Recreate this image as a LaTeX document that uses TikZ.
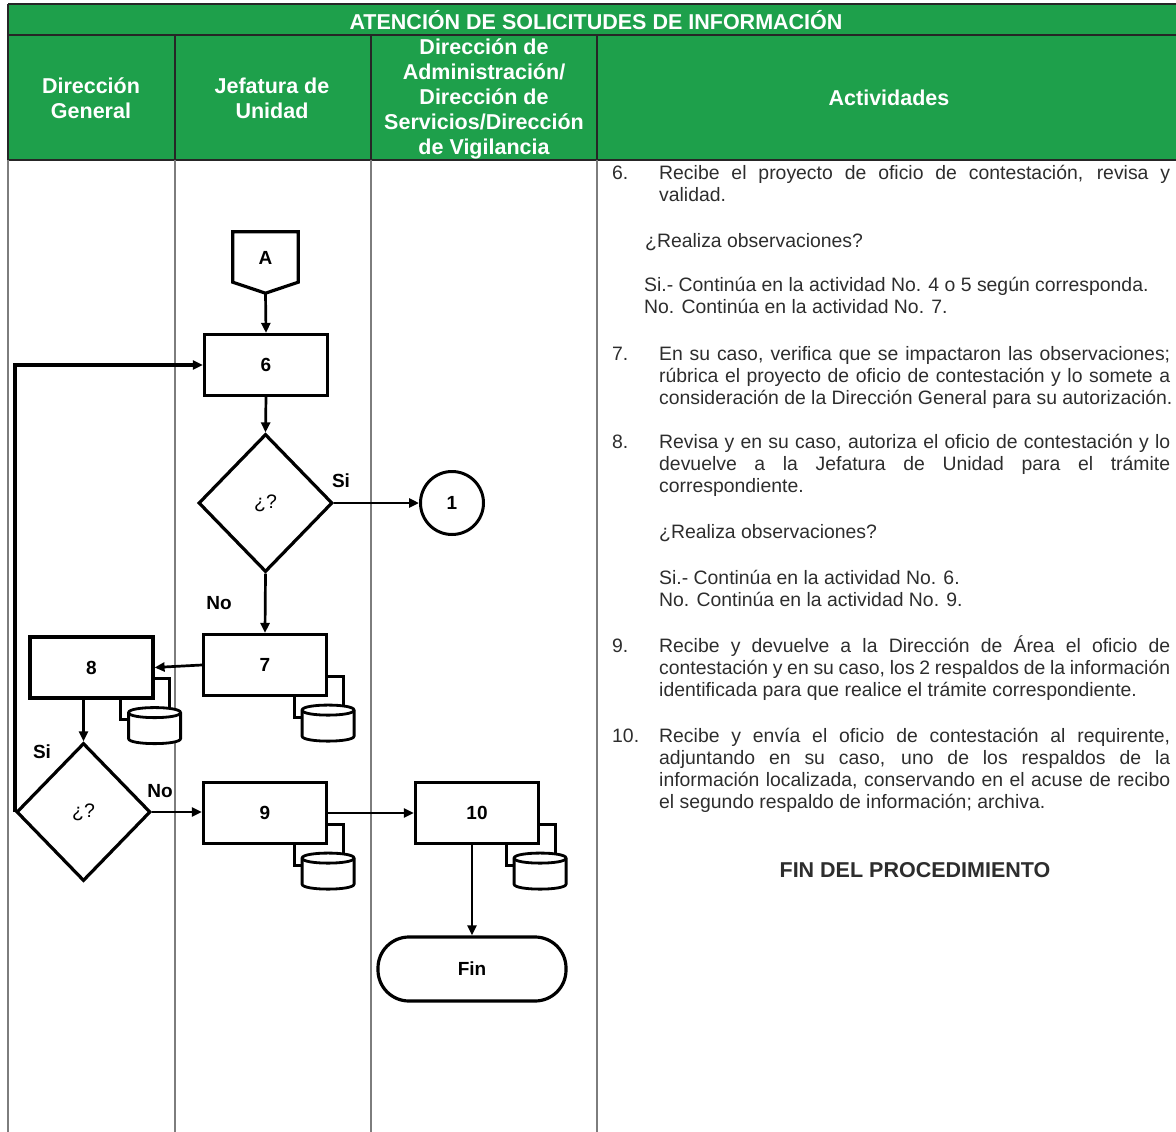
\documentclass[tikz,border=0pt]{standalone}
\usepackage{fontspec}
\setmainfont{Liberation Sans}
\usetikzlibrary{shapes.geometric,arrows.meta}
\definecolor{hdrgreen}{RGB}{30,160,75}
\definecolor{txtgray}{RGB}{45,45,45}
\definecolor{colgray}{RGB}{125,125,125}
\newcommand\docsym[1]{%
  \begin{scope}[shift={(#1.south east)}]
    \draw[line width=2.8pt] (0,-21) -- (15,-21) -- (15,20) -- (-34,20) -- (-34,0);
    \filldraw[fill=white,line width=2.8pt] (-26,13) -- (-26,39) .. controls (-26,45.7) and (26,45.7) .. (26,39) -- (26,13) .. controls (26,6.3) and (-26,6.3) .. (-26,13) -- cycle;
    \draw[line width=2.8pt] (-26,13) .. controls (-26,19.7) and (26,19.7) .. (26,13);
  \end{scope}}
\begin{document}
\begin{tikzpicture}[x=1pt,y=-1pt,
  arr/.style={line width=2.7pt,-{Triangle[length=10pt,width=9pt]}},
  box/.style={draw,line width=3.2pt,fill=white,minimum width=123pt,minimum height=61pt,inner sep=0pt,font=\fontsize{19}{22}\selectfont\bfseries},
  dec/.style={draw,diamond,line width=3.2pt,fill=white,minimum width=134pt,minimum height=138pt,inner sep=0pt,font=\fontsize{19.5}{22}\selectfont},
  lbl/.style={font=\fontsize{19}{22}\selectfont\bfseries,inner sep=0pt},
  body/.style={anchor=mid west,inner sep=0pt,text=txtgray,font=\fontsize{19.4}{22}\selectfont},
  hdr/.style={text=white,font=\fontsize{21.5}{25}\selectfont\bfseries,align=center,inner sep=0pt},
  hline/.style={line width=1.6pt,draw=black!85},
  colline/.style={line width=1.5pt,draw=colgray},
]
\useasboundingbox (0,0) rectangle (1176,1132);
% header
\fill[hdrgreen] (8,4) rectangle (1176,160);
\draw[hline] (8,4) -- (1176,4);
\draw[hline] (8,35) -- (1176,35);
\draw[hline] (8,160) -- (1176,160);
\draw[hline] (175,35) -- (175,160);
\draw[hline] (371,35) -- (371,160);
\draw[hline] (597,35) -- (597,160);
\draw[hline] (8,4) -- (8,160);
\node[hdr] (title) at (596,20) {ATENCIÓN DE SOLICITUDES DE INFORMACIÓN};
\node[hdr] (h1) at (91,98) {Dirección\\General};
\node[hdr] (h2) at (272,98) {Jefatura de\\Unidad};
\node[hdr] (h3) at (484,99) {Dirección de\\Administración/\\Dirección de\\Servicios/Dirección\\de Vigilancia};
\node[hdr] (h4) at (889,98) {Actividades};
% columns
\draw[colline] (8,160) -- (8,1132);
\draw[colline] (175,160) -- (175,1132);
\draw[colline] (371,160) -- (371,1132);
\draw[line width=2.2pt,draw=colgray] (597,160) -- (597,1132);

% flow nodes
\node[minimum width=65pt,minimum height=61pt,inner sep=0pt] (A) at (265.5,262.5) {};
\draw[line width=3.2pt,fill=white] (A.north west) -- (A.north east) -- ([yshift=11pt]A.south east) -- (A.south) -- ([yshift=11pt]A.south west) -- cycle;
\node[lbl] (Alab) at (265.5,258) {A};
\node[box] (b6) at (266,365) {6};
\node[dec] (d1) at (265.5,503) {¿?};
\node[draw,circle,line width=3pt,minimum size=63pt,inner sep=0pt,font=\fontsize{19}{22}\selectfont\bfseries] (c1) at (452,503) {1};
\node[box] (b7) at (265,665) {7};
\node[box] (b8) at (91.5,667.5) {8};
\node[dec] (d2) at (83.5,812) {¿?};
\node[box] (b9) at (265,813) {9};
\node[box] (b10) at (477,813) {10};
\node[draw,line width=3.2pt,rounded corners=31pt,minimum width=188pt,minimum height=64pt,inner sep=0pt,font=\fontsize{19}{22}\selectfont\bfseries] (fin) at (472,969) {Fin};

\docsym{b7}
\docsym{b8}
\docsym{b9}
\docsym{b10}

% connectors
\draw[arr] (A.south) -- (b6.north);
\draw[arr] (b6.south) -- (d1.north);
\draw[arr] (d1.east) -- (c1.west);
\draw[arr] (d1.south) -- (b7.north);
\draw[arr] (b7.west) -- (b8.east);
\draw[arr] (d2.north |- b8.south) -- (d2.north);
\draw[arr] (d2.east) -- (d2.east -| b9.west);
\draw[arr] (b9.east) -- (b9.east -| b10.west);
\draw[arr] (b10.south -| fin.north) -- (fin.north);
\draw[arr,line width=3.4pt] (d2.west) |- (b6.west);

\node[lbl] (si1) at (341,481) {Si};
\node[lbl] (no1) at (219,603) {No};
\node[lbl] (si2) at (42,752) {Si};
\node[lbl] (no2) at (160,791) {No};

% activities text
\node[body] (n6) at (612,177) {6.};
\node[body] (t6a) at (659,177) {\makebox[511pt][s]{Recibe el proyecto de oficio de contestación, revisa y}};
\node[body] (t6b) at (659,199) {validad.};
\node[body] (t6c) at (645,245) {¿Realiza observaciones?};
\node[body] (t6d) at (644,289) {Si.- Continúa en la actividad No. 4 o 5 según corresponda.};
\node[body] (t6e) at (644,311) {No. Continúa en la actividad No. 7.};

\node[body] (n7) at (612,358) {7.};
\node[body] (t7a) at (659,358) {\makebox[511pt][s]{En su caso, verifica que se impactaron las observaciones;}};
\node[body] (t7b) at (659,380) {\makebox[511pt][s]{rúbrica el proyecto de oficio de contestación y lo somete a}};
\node[body] (t7c) at (659,402) {consideración de la Dirección General para su autorización.};

\node[body] (n8) at (612,446) {8.};
\node[body] (t8a) at (659,446) {\makebox[511pt][s]{Revisa y en su caso, autoriza el oficio de contestación y lo}};
\node[body] (t8b) at (659,468) {\makebox[511pt][s]{devuelve a la Jefatura de Unidad para el trámite}};
\node[body] (t8c) at (659,490) {correspondiente.};
\node[body] (t8d) at (659,536) {¿Realiza observaciones?};
\node[body] (t8e) at (659,582) {Si.- Continúa en la actividad No. 6.};
\node[body] (t8f) at (659,604) {No. Continúa en la actividad No. 9.};

\node[body] (n9) at (612,650) {9.};
\node[body] (t9a) at (659,650) {\makebox[511pt][s]{Recibe y devuelve a la Dirección de Área el oficio de}};
\node[body] (t9b) at (659,672) {\makebox[511pt][s]{contestación y en su caso, los 2 respaldos de la información}};
\node[body] (t9c) at (659,694) {identificada para que realice el trámite correspondiente.};

\node[body] (n10) at (612,740) {10.};
\node[body] (t10a) at (659,740) {\makebox[511pt][s]{Recibe y envía el oficio de contestación al requirente,}};
\node[body] (t10b) at (659,762) {\makebox[511pt][s]{adjuntando en su caso, uno de los respaldos de la}};
\node[body] (t10c) at (659,784) {\makebox[511pt][s]{información localizada, conservando en el acuse de recibo}};
\node[body] (t10d) at (659,806) {el segundo respaldo de información; archiva.};

\node[inner sep=0pt,text=txtgray,font=\fontsize{21.5}{25}\selectfont\bfseries] (finproc) at (915,870) {FIN DEL PROCEDIMIENTO};
\end{tikzpicture}
\end{document}
